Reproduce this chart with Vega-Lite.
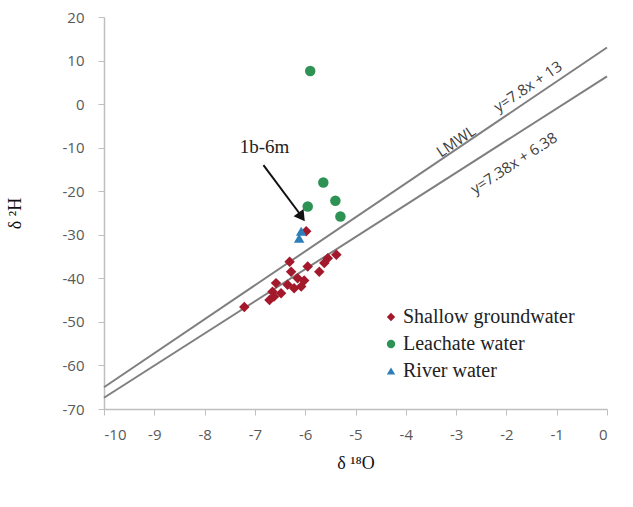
{
  "$schema": "https://vega.github.io/schema/vega-lite/v6.json",
  "width": 503,
  "height": 392,
  "autosize": {"type": "none"},
  "padding": {"left": 104, "top": 17, "right": 26, "bottom": 98},
  "background": "white",
  "config": {
    "view": {"stroke": null},
    "axis": {
      "grid": false,
      "domainColor": "#BFBFBF",
      "domainWidth": 1.5,
      "tickColor": "#BFBFBF",
      "tickSize": 6,
      "labelColor": "#595959",
      "labelFont": "Open Sans",
      "labelFontSize": 15,
      "labelOverlap": false,
      "titleFont": "Liberation Serif",
      "titleFontSize": 18,
      "titleFontWeight": "normal",
      "titleColor": "#111111"
    }
  },
  "datasets": {
    "pts": [
      {"x": -7.21, "y": -46.6, "type": "Shallow groundwater"},
      {"x": -6.71, "y": -45.0, "type": "Shallow groundwater"},
      {"x": -6.62, "y": -44.2, "type": "Shallow groundwater"},
      {"x": -6.65, "y": -43.1, "type": "Shallow groundwater"},
      {"x": -6.58, "y": -41.1, "type": "Shallow groundwater"},
      {"x": -6.48, "y": -43.4, "type": "Shallow groundwater"},
      {"x": -6.31, "y": -36.2, "type": "Shallow groundwater"},
      {"x": -6.28, "y": -38.5, "type": "Shallow groundwater"},
      {"x": -6.35, "y": -41.5, "type": "Shallow groundwater"},
      {"x": -6.22, "y": -42.3, "type": "Shallow groundwater"},
      {"x": -6.15, "y": -40.0, "type": "Shallow groundwater"},
      {"x": -6.08, "y": -41.9, "type": "Shallow groundwater"},
      {"x": -6.02, "y": -40.5, "type": "Shallow groundwater"},
      {"x": -5.95, "y": -37.3, "type": "Shallow groundwater"},
      {"x": -5.72, "y": -38.5, "type": "Shallow groundwater"},
      {"x": -5.62, "y": -36.5, "type": "Shallow groundwater"},
      {"x": -5.55, "y": -35.4, "type": "Shallow groundwater"},
      {"x": -5.38, "y": -34.6, "type": "Shallow groundwater"},
      {"x": -5.98, "y": -29.2, "type": "Shallow groundwater"},
      {"x": -5.90, "y": 7.6, "type": "Leachate water"},
      {"x": -5.64, "y": -18.0, "type": "Leachate water"},
      {"x": -5.40, "y": -22.2, "type": "Leachate water"},
      {"x": -5.30, "y": -25.8, "type": "Leachate water"},
      {"x": -5.95, "y": -23.5, "type": "Leachate water"},
      {"x": -6.12, "y": -30.8, "type": "River water"},
      {"x": -6.08, "y": -29.2, "type": "River water"}
    ],
    "lines": [
      {"x": -10, "y": -65, "line": "LMWL"},
      {"x": 0, "y": 13, "line": "LMWL"},
      {"x": -10, "y": -67.42, "line": "fit"},
      {"x": 0, "y": 6.38, "line": "fit"}
    ]
  },
  "layer": [
    {
      "data": {"name": "lines"},
      "mark": {"type": "line", "color": "#7F7F7F", "strokeWidth": 2},
      "encoding": {
        "x": {"field": "x", "type": "quantitative", "scale": {"domain": [-10, 0], "nice": false},
              "axis": {"title": "δ ¹⁸O", "values": [-10,-9,-8,-7,-6,-5,-4,-3,-2,-1,0], "labelExpr": "'' + datum.value", "labelPadding": 12, "titlePadding": 12}},
        "y": {"field": "y", "type": "quantitative", "scale": {"domain": [-70, 20], "nice": false},
              "axis": {"title": "δ ²H", "values": [-70,-60,-50,-40,-30,-20,-10,0,10,20], "labelExpr": "'' + datum.value", "labelPadding": 14, "titlePadding": 38}},
        "detail": {"field": "line"}
      }
    },
    {
      "data": {"name": "pts"},
      "mark": {"type": "point", "filled": true, "opacity": 1, "size": 110},
      "encoding": {
        "x": {"field": "x", "type": "quantitative"},
        "y": {"field": "y", "type": "quantitative"},
        "color": {"field": "type", "type": "nominal",
          "scale": {"domain": ["Shallow groundwater", "Leachate water", "River water"], "range": ["#A3192B", "#2E9254", "#2C7FB8"]},
          "legend": {"title": null, "orient": "none", "legendX": 271, "legendY": 284,
                     "labelFont": "Liberation Serif", "labelFontSize": 20, "labelColor": "#222222", "labelLimit": 0,
                     "symbolSize": 70, "rowPadding": 7, "labelOffset": 2,
                     "fillColor": "white", "padding": 6}},
        "shape": {"field": "type", "type": "nominal",
          "scale": {"domain": ["Shallow groundwater", "Leachate water", "River water"], "range": ["diamond", "circle", "triangle-up"]}}
      }
    },
    {
      "data": {"values": [
        {"x": -3.0, "y": -8.6, "t": "LMWL", "a": -34},
        {"x": -1.57, "y": 4.0, "t": "y=7.8x + 13", "a": -34},
        {"x": -1.85, "y": -13.6, "t": "y=7.38x + 6.38", "a": -33}
      ]},
      "mark": {"type": "text", "font": "Open Sans", "fontSize": 15, "color": "#404040"},
      "encoding": {
        "x": {"field": "x", "type": "quantitative"},
        "y": {"field": "y", "type": "quantitative"},
        "text": {"field": "t"},
        "angle": {"field": "a", "type": "quantitative", "scale": null}
      }
    },
    {
      "data": {"values": [{"x": -6.83, "y": -14.0, "x2": -6.12, "y2": -25.0}]},
      "mark": {"type": "rule", "color": "#111111", "strokeWidth": 2},
      "encoding": {
        "x": {"field": "x", "type": "quantitative"},
        "y": {"field": "y", "type": "quantitative"},
        "x2": {"field": "x2"},
        "y2": {"field": "y2"}
      }
    },
    {
      "data": {"values": [{"x": -6.07, "y": -25.9, "a": 144}]},
      "mark": {"type": "point", "shape": "triangle-up", "filled": true, "color": "#111111", "opacity": 1, "size": 150},
      "encoding": {
        "x": {"field": "x", "type": "quantitative"},
        "y": {"field": "y", "type": "quantitative"},
        "angle": {"field": "a", "type": "quantitative", "scale": null}
      }
    },
    {
      "data": {"values": [{"x": -6.81, "y": -9.8, "t": "1b-6m"}]},
      "mark": {"type": "text", "font": "Liberation Serif", "fontSize": 19, "color": "#222222"},
      "encoding": {
        "x": {"field": "x", "type": "quantitative"},
        "y": {"field": "y", "type": "quantitative"},
        "text": {"field": "t"}
      }
    }
  ]
}
